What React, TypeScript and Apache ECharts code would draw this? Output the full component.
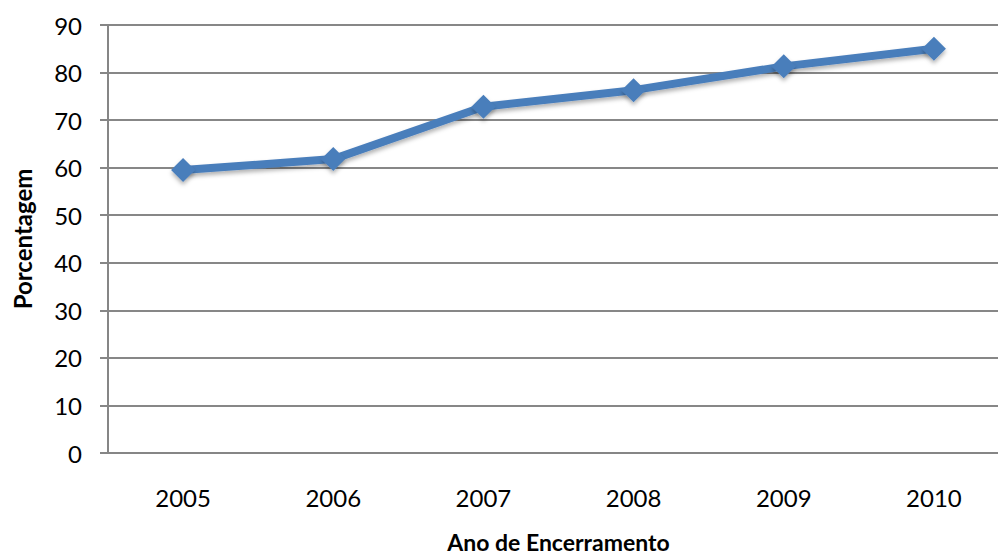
import React, { useEffect, useRef } from "react";
import * as echarts from "echarts";

const categories = ["2005", "2006", "2007", "2008", "2009", "2010"];
const percentages = [59.5, 61.8, 72.8, 76.3, 81.3, 85.0];
const yTicks = { min: 0, max: 90, interval: 10 };
const xTitle = "Ano de Encerramento";
const yTitle = "Porcentagem";

export default function App() {
  const ref = useRef<HTMLDivElement>(null);
  useEffect(() => {
    if (!ref.current) return;
    const chart = echarts.init(ref.current, undefined, { renderer: "svg" });
    const font = "Lato, 'Open Sans', sans-serif";
    chart.setOption({
      animation: false,
      backgroundColor: "#ffffff",
      grid: {
        left: 108,
        top: 25,
        width: 901,
        height: 428,
        containLabel: false,
        outerBoundsMode: "none",
      },
      xAxis: {
        type: "category",
        data: categories,
        boundaryGap: true,
        name: xTitle,
        nameLocation: "middle",
        nameGap: 77,
        nameTextStyle: { fontFamily: font, fontWeight: "bold", fontSize: 23, color: "#000" },
        axisLine: { show: true, lineStyle: { color: "#868686", width: 2 } },
        axisTick: { show: false },
        axisLabel: { fontFamily: font, fontSize: 24, color: "#000", margin: 32 },
        splitLine: { show: false },
      },
      yAxis: {
        type: "value",
        min: yTicks.min,
        max: yTicks.max,
        interval: yTicks.interval,
        name: yTitle,
        nameLocation: "middle",
        nameGap: 74,
        nameRotate: 90,
        nameTextStyle: { fontFamily: font, fontWeight: "bold", fontSize: 24, color: "#000" },
        axisLine: { show: true, lineStyle: { color: "#868686", width: 2 } },
        axisTick: { show: true, inside: false, length: 8, lineStyle: { color: "#868686", width: 2 } },
        axisLabel: { fontFamily: font, fontSize: 24, color: "#000", margin: 26 },
        splitLine: { show: true, lineStyle: { color: "#878787", width: 2 } },
      },
      series: [
        {
          type: "line",
          data: percentages,
          symbol: "diamond",
          symbolSize: 24,
          lineStyle: {
            color: "#4A7EBB",
            width: 8,
            shadowColor: "rgba(0,0,0,0.3)",
            shadowBlur: 4,
            shadowOffsetY: 3,
          },
          itemStyle: {
            color: "#4A7EBB",
            borderWidth: 0,
            shadowColor: "rgba(0,0,0,0.3)",
            shadowBlur: 4,
            shadowOffsetY: 3,
          },
        },
      ],
    });
    return () => chart.dispose();
  }, []);
  return (
    <div
      ref={ref}
      style={{ position: "fixed", left: 0, top: 0, width: 998, height: 558, background: "#fff" }}
    />
  );
}
